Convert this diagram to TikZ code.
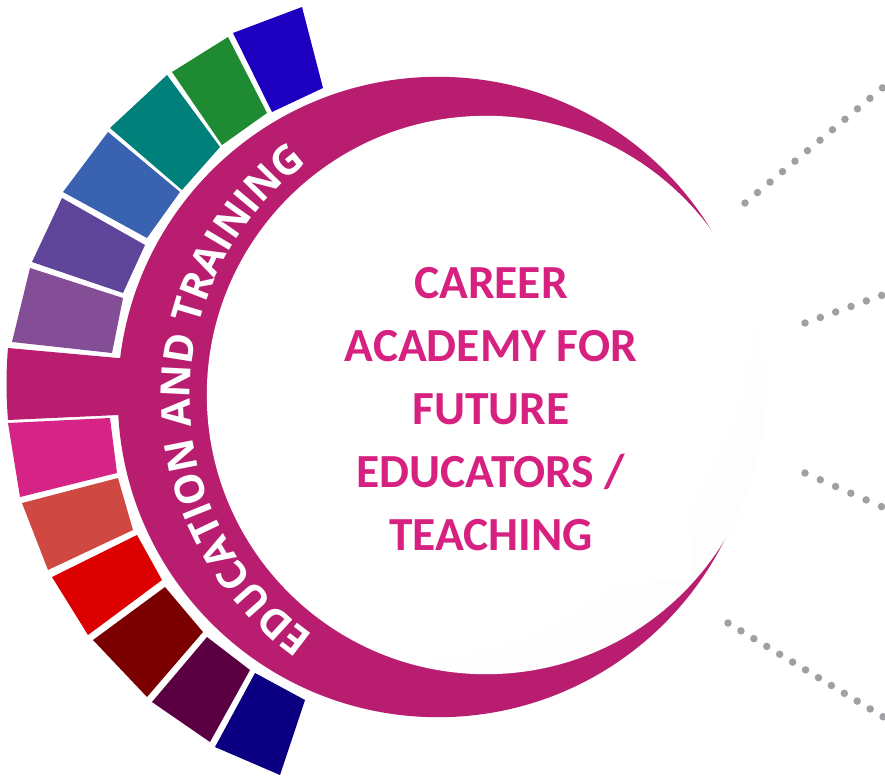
\documentclass[tikz,border=0pt]{standalone}
\usepackage{fontspec}
\usetikzlibrary{decorations.text}
\newfontfamily\titlefont{Carlito}
\newfontfamily\arcfont{Open Sans}
\newcommand\arcfmt{\arcfont\bfseries\fontsize{40.5}{44}\selectfont}
\definecolor{ringmag}{RGB}{184,29,112}
\definecolor{titlepink}{RGB}{214,33,128}
\definecolor{dotgray}{RGB}{160,160,164}
\definecolor{sA}{RGB}{29,0,191}
\definecolor{sB}{RGB}{30,138,50}
\definecolor{sC}{RGB}{0,128,122}
\definecolor{sD}{RGB}{57,98,176}
\definecolor{sE}{RGB}{94,69,154}
\definecolor{sF}{RGB}{131,78,149}
\definecolor{sG}{RGB}{213,35,134}
\definecolor{sH}{RGB}{208,72,66}
\definecolor{sI}{RGB}{220,0,0}
\definecolor{sJ}{RGB}{123,0,0}
\definecolor{sK}{RGB}{90,0,66}
\definecolor{sL}{RGB}{12,0,130}
\pgfdeclareradialshading{rimshade}{\pgfpoint{-14bp}{14bp}}{color(0bp)=(white); color(32bp)=(white); color(50bp)=(black!4); color(62bp)=(black!7); color(90bp)=(black!8)}
\begin{document}
\begin{tikzpicture}[x=1pt,y=1pt,
  seg/.style={fill=#1},
  dotline/.style={draw=dotgray, line width=7.5pt, line cap=round, dash pattern=on 0pt off #1},
  titletext/.style={font=\titlefont\bfseries\fontsize{47.5}{63}\selectfont, text=titlepink, align=center, inner sep=0pt}]
\useasboundingbox (0,0) rectangle (885,-779);
\fill[white] (0,0) rectangle (885,-779);
% colour segments
\fill[seg=sA] (233,-33) -- (302,-7) -- (323,-88) -- (272,-112) -- cycle;
\fill[seg=sB] (172,-72) -- (228,-37) -- (267,-113) -- (222,-145) -- cycle;
\fill[seg=sC] (110,-128) -- (167,-75) -- (220,-147) -- (182,-190) -- cycle;
\fill[seg=sD] (63,-192) -- (108,-132) -- (180,-192) -- (147,-238) -- cycle;
\fill[seg=sE] (32,-262) -- (62,-198) -- (145,-245) -- (123,-293) -- cycle;
\fill[seg=sF] (12,-342) -- (30,-268) -- (123,-298) -- (112,-353) -- cycle;
\fill[seg=sG] (8,-423) -- (110,-418) -- (117,-473) -- (20,-497) -- cycle;
\fill[seg=sH] (22,-503) -- (118,-478) -- (133,-530) -- (48,-570) -- cycle;
\fill[seg=sI] (52,-577) -- (137,-535) -- (162,-580) -- (88,-635) -- cycle;
\fill[seg=sJ] (93,-640) -- (165,-587) -- (203,-632) -- (147,-697) -- cycle;
\fill[seg=sK] (152,-702) -- (207,-637) -- (250,-670) -- (210,-742) -- cycle;
\fill[seg=sL] (215,-747) -- (255,-673) -- (305,-700) -- (280,-775) -- cycle;
% magenta tab and crescent
\fill[ringmag] (8,-348) -- (140,-360) -- (140,-414) -- (8,-420) .. controls (6,-395) and (6,-372) .. (8,-348) -- cycle;
\fill[ringmag] (438,-397) circle[radius=320.2];
% inner white disc
\shade[shading=rimshade] (486,-395) circle[radius=279.2];
\fill[white] (293,-240) rectangle (691,-581);
% title
\node[titletext, anchor=north] (title) at (491,-267.5)
  {CAREER\\ACADEMY FOR\\FUTURE\\EDUCATORS /\\TEACHING};
% curved label
\coordinate (tc) at (482,-397);
\path[decorate, decoration={text along path, text align=center, text color=white,
  text={|\arcfmt|EDUCATION AND TRAINING}}]
  ([shift={(240:292)}]tc) arc[start angle=240, end angle=121.4, radius=292];
% dotted rays
\coordinate (d1s) at (745,-203); \coordinate (d1e) at (905,-69);
\coordinate (d2s) at (805,-323); \coordinate (d2e) at (905,-287);
\coordinate (d3s) at (805,-473); \coordinate (d3e) at (905,-517);
\coordinate (d4s) at (728,-623); \coordinate (d4e) at (905,-730);
\draw[dotline=16.3pt] (d1s) -- (d1e);
\draw[dotline=16.3pt] (d2s) -- (d2e);
\draw[dotline=16.7pt] (d3s) -- (d3e);
\draw[dotline=15.1pt] (d4s) -- (d4e);
\end{tikzpicture}
\end{document}
